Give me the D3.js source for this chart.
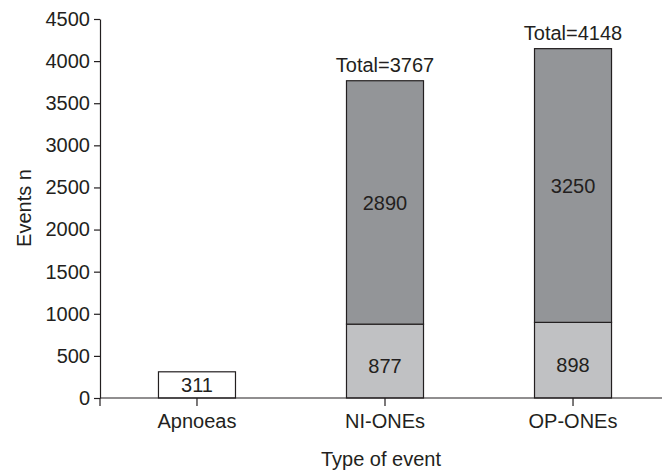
<!DOCTYPE html>
<html>
<head>
<meta charset="utf-8">
<script src="https://cdn.jsdelivr.net/npm/d3@7"></script>
<style>
  body { margin: 0; background: #fff; }
  text { font-family: "Liberation Sans", Arial, sans-serif; fill: #231f20; }
</style>
</head>
<body>
<div id="chart"></div>
<script>
// data
var categories = ["Apnoeas", "NI-ONEs", "OP-ONEs"];
var lowerValues = [311, 877, 898];
var upperValues = [0, 2890, 3250];
var totals = [null, 3767, 4148];
var yTicks = [0, 500, 1000, 1500, 2000, 2500, 3000, 3500, 4000, 4500];

var width = 662, height = 470;
var ink = "#231f20";
var fs = "20px";

var svg = d3.select("#chart").append("svg")
    .attr("width", width)
    .attr("height", height);

var x = d3.scaleBand()
    .domain(categories)
    .range([100, 670])
    .paddingInner(0.5904)
    .paddingOuter(0.311);

var y = d3.scaleLinear()
    .domain([0, 4500])
    .range([398, 19]);

var rows = categories.map((c, i) => ({
    cat: c, lo: lowerValues[i], hi: upperValues[i], total: totals[i], stacked: upperValues[i] > 0
}));

// lower segments
svg.append("g").selectAll("rect")
    .data(rows)
    .join("rect")
    .attr("x", d => x(d.cat))
    .attr("y", d => y(d.lo))
    .attr("width", x.bandwidth())
    .attr("height", d => y(0) - y(d.lo))
    .attr("fill", d => d.stacked ? "#c0c1c3" : "#ffffff")
    .attr("stroke", ink)
    .attr("stroke-width", 1.2);

// upper segments
svg.append("g").selectAll("rect")
    .data(rows.filter(d => d.stacked))
    .join("rect")
    .attr("x", d => x(d.cat))
    .attr("y", d => y(d.lo + d.hi))
    .attr("width", x.bandwidth())
    .attr("height", d => y(d.lo) - y(d.lo + d.hi))
    .attr("fill", "#939598")
    .attr("stroke", ink)
    .attr("stroke-width", 1.2);

// value labels
svg.append("g").selectAll("text")
    .data(rows)
    .join("text")
    .attr("x", d => x(d.cat) + x.bandwidth() / 2)
    .attr("y", d => y(d.lo / 2) + (d.stacked ? 11.5 : 7.5))
    .attr("text-anchor", "middle")
    .style("font-size", fs)
    .text(d => d.lo);

svg.append("g").selectAll("text")
    .data(rows.filter(d => d.stacked))
    .join("text")
    .attr("x", d => x(d.cat) + x.bandwidth() / 2)
    .attr("y", d => y(d.lo + d.hi / 2) + 7.5)
    .attr("text-anchor", "middle")
    .style("font-size", fs)
    .text(d => d.hi);

svg.append("g").selectAll("text")
    .data(rows.filter(d => d.total))
    .join("text")
    .attr("x", d => x(d.cat) + x.bandwidth() / 2)
    .attr("y", d => y(d.total) - 9)
    .attr("text-anchor", "middle")
    .style("font-size", fs)
    .text(d => "Total=" + d.total);

// y axis
var yAxis = svg.append("g")
    .attr("transform", "translate(100,0)")
    .call(d3.axisLeft(y).tickValues(yTicks).tickFormat(d3.format("d"))
        .tickSize(6).tickPadding(4).tickSizeOuter(0));
yAxis.select(".domain").attr("stroke", ink).attr("stroke-width", 1.2);
yAxis.selectAll(".tick line").attr("stroke", ink).attr("stroke-width", 1.2);
yAxis.selectAll(".tick text")
    .style("font-size", fs)
    .style("font-family", "'Liberation Sans', Arial, sans-serif")
    .attr("fill", ink);

// x axis
svg.append("line")
    .attr("x1", 100).attr("x2", width)
    .attr("y1", y(0)).attr("y2", y(0))
    .attr("stroke", ink).attr("stroke-width", 1.2);

var xTickPos = [100].concat(categories.map(c => x(c) + x.bandwidth() / 2));
svg.append("g").selectAll("line")
    .data(xTickPos)
    .join("line")
    .attr("x1", d => d).attr("x2", d => d)
    .attr("y1", y(0)).attr("y2", y(0) + 8)
    .attr("stroke", ink).attr("stroke-width", 1.2);

svg.append("g").selectAll("text")
    .data(categories)
    .join("text")
    .attr("x", d => x(d) + x.bandwidth() / 2)
    .attr("y", 428)
    .attr("text-anchor", "middle")
    .style("font-size", fs)
    .text(d => d);

// axis titles
svg.append("text")
    .attr("x", 381)
    .attr("y", 466)
    .attr("text-anchor", "middle")
    .style("font-size", fs)
    .text("Type of event");

svg.append("text")
    .attr("transform", "translate(31,208) rotate(-90)")
    .attr("text-anchor", "middle")
    .style("font-size", fs)
    .text("Events n");
</script>
</body>
</html>
